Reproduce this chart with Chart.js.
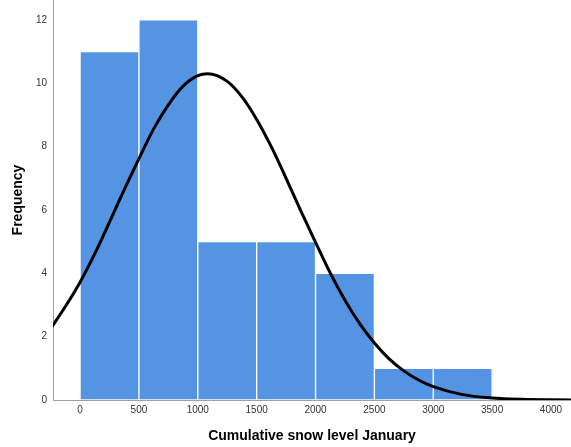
<!DOCTYPE html>
<html>
<head>
<meta charset="utf-8">
<script src="https://cdn.jsdelivr.net/npm/chart.js@4/dist/chart.umd.min.js"></script>
<style>
  html, body { margin: 0; padding: 0; background: #ffffff; }
  #wrap { width: 571px; height: 447px; position: relative; }
</style>
</head>
<body>
<div id="wrap"><canvas id="hist"></canvas></div>
<script>
// Histogram bins (bin centres, width 500) and their counts
const binCenters = [250, 750, 1250, 1750, 2250, 2750, 3250];
const binCounts = [11, 12, 5, 5, 4, 1, 1];

// Fitted normal curve, sampled along the snow level axis
const curveX = [-250, -125, 0, 125, 250, 375, 500, 625, 750, 875, 1000, 1085, 1250, 1375, 1500, 1625, 1750, 1875, 2000, 2125, 2250, 2375, 2500, 2625, 2750, 2875, 3000, 3250, 3500, 3750, 4000, 4250];
const curveY = [2.25, 2.95, 3.72, 4.62, 5.62, 6.64, 7.62, 8.56, 9.32, 9.91, 10.24, 10.3, 10.06, 9.57, 8.86, 7.99, 7.0, 5.97, 4.98, 4.01, 3.15, 2.41, 1.8, 1.3, 0.92, 0.63, 0.42, 0.17, 0.064, 0.021, 0.006, 0.002];

// Axis ticks
const xTicks = [0, 500, 1000, 1500, 2000, 2500, 3000, 3500, 4000];
const yTicks = [0, 2, 4, 6, 8, 10, 12];

const barData = binCenters.map((x, i) => ({ x: x, y: binCounts[i] }));
const curveData = curveX.map((x, i) => ({ x: x, y: curveY[i] }));

const fontFamily = 'Arial, "Liberation Sans", sans-serif';
const tickColor = '#333333';
const axisColor = '#a0a0a0';

new Chart(document.getElementById('hist'), {
  type: 'bar',
  data: {
    datasets: [
      {
        type: 'line',
        data: curveData,
        borderColor: '#000000',
        borderWidth: 3,
        pointRadius: 0,
        cubicInterpolationMode: 'monotone',
        fill: false,
        order: 0
      },
      {
        type: 'bar',
        data: barData,
        backgroundColor: '#5593e3',
        borderColor: '#ffffff',
        borderWidth: 1,
        borderSkipped: false,
        barPercentage: 1.0,
        categoryPercentage: 1.0,
        order: 1
      }
    ]
  },
  options: {
    responsive: true,
    maintainAspectRatio: false,
    animation: false,
    layout: { padding: { left: 0, right: 0, top: 0, bottom: 0 } },
    plugins: {
      legend: { display: false },
      tooltip: { enabled: false }
    },
    scales: {
      x: {
        type: 'linear',
        offset: false,
        min: -230,
        max: 4170,
        afterBuildTicks: (scale) => { scale.ticks = xTicks.map(v => ({ value: v })); },
        afterFit: (scale) => {
          scale.height = 47;
          scale.paddingLeft = 0;
          scale.paddingRight = 0;
        },
        grid: { display: false, drawTicks: false },
        border: { display: true, color: axisColor, width: 1 },
        ticks: {
          color: tickColor,
          font: { family: fontFamily, size: 10 },
          padding: 4,
          maxRotation: 0,
          autoSkip: false,
          callback: (v) => String(v)
        },
        title: {
          display: true,
          text: 'Cumulative snow level January',
          color: '#000000',
          font: { family: fontFamily, size: 14, weight: 'bold' },
          padding: { top: 0, bottom: 2 }
        }
      },
      y: {
        min: 0,
        max: 12.63,
        afterBuildTicks: (scale) => { scale.ticks = yTicks.map(v => ({ value: v })); },
        afterFit: (scale) => {
          scale.width = 53;
          scale.paddingTop = 0;
          scale.paddingBottom = 0;
        },
        grid: { display: false, drawTicks: false },
        border: { display: true, color: axisColor, width: 1 },
        ticks: {
          color: tickColor,
          font: { family: fontFamily, size: 10 },
          padding: 6,
          callback: (v) => String(v)
        },
        title: {
          display: true,
          text: 'Frequency',
          color: '#000000',
          font: { family: fontFamily, size: 14, weight: 'bold' },
          padding: { top: 10, bottom: 0 }
        }
      }
    }
  }
});
</script>
</body>
</html>
